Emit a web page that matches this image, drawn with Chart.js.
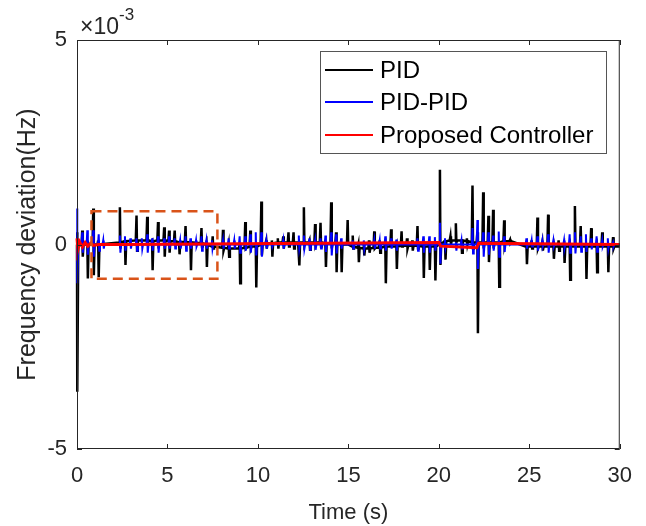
<!DOCTYPE html>
<html>
<head>
<meta charset="utf-8">
<script src="https://cdn.jsdelivr.net/npm/chart.js@4"></script>
<style>
  body { margin: 0; background: #fff; }
  canvas { display: block; }
</style>
</head>
<body>
<canvas id="myChart" width="646" height="526"></canvas>
<script>
// all values in units of 1e-3 Hz (axis shows x10^-3)

// PID: spikes (time, top, bottom) and the slow level around each one
const pidTime = [0, 0.29, 0.57, 0.90, 1.17, 2.37, 2.65, 3.29, 3.88, 4.15,
  4.48, 4.82, 5.09, 5.40, 5.64, 6.00, 6.27, 6.88, 7.15, 7.50,
  8.07, 8.38, 8.99, 9.30, 9.58, 9.88, 10.19, 10.46, 10.77, 11.10,
  11.40, 11.69, 11.97, 12.26, 12.54, 12.85, 13.16, 13.46, 13.73, 14.05,
  14.32, 14.60, 14.96, 15.24, 15.55, 15.85, 16.14, 16.43, 16.73, 17.04,
  17.36, 17.65, 17.94, 18.24, 18.53, 18.82, 19.14, 19.47, 19.78, 20.06,
  20.34, 20.64, 20.94, 21.25, 21.55, 21.86, 22.13, 22.45, 22.74, 23.00,
  23.31, 23.61, 23.94, 24.84, 25.13, 25.45, 25.72, 26.04, 26.33, 26.62,
  26.92, 27.23, 27.52, 27.84, 28.13, 28.42, 28.72, 29.03, 29.34, 29.63];
const pidHigh = [0.3, 0.34, 0.1, 0.88, 0.1, 0.91, 0.1, 0.71, 0.68, 0.1,
  0.55, 0.42, 0.34, 0.34, 0.05, 0.45, 0.05, 0.4, 0.05, 0.2,
  0.36, 0, 0, 0.55, 0.34, 0, 1.05, 0.1, 0.1, 0.15,
  0.2, 0.3, 0.3, 0.05, 0.91, 0.1, 0.5, 0.53, 0, 1.03,
  0.3, 0, 0.6, 0.22, 0, 0, 0.1, 0.32, 0.1, 0,
  0.37, 0, 0.32, 0.15, 0.1, 0.45, 0, 0.05, 0, 1.83,
  0.05, 0.2, 0.52, 0.05, 0.15, 1.44, 0.3, 1.28, 0.7, 0.85,
  0, 0.59, 0.12, 0, 0.1, 0.66, 0.05, 0.73, 0, 0.1,
  0, 0, 0.94, 0.45, 0, 0.4, 0, 0.3, 0, 0.18];
const pidLow = [-3.6, -0.3, -0.83, -0.75, -0.8, -0.1, -0.5, -0.15, 0, -0.63,
  0.05, -0.3, -0.2, 0, -0.24, 0, -0.63, -0.05, -0.55, -0.1,
  -0.15, -0.3, -0.95, -0.1, -0.1, -1.05, -0.27, -0.1, -0.3, -0.1,
  -0.1, -0.05, -0.1, -0.51, 0, -0.13, 0, -0.05, -0.55, -0.1,
  -0.68, -0.68, 0, -0.1, -0.43, -0.27, -0.2, -0.1, -0.2, -0.95,
  0, -0.6, -0.05, -0.1, -0.15, -0.1, -0.82, -0.62, -0.88, -0.5,
  -0.37, 0, 0.05, -0.2, 0, -0.1, -2.17, -0.1, -0.43, -0.1,
  -1.03, 0, 0.05, -0.48, -0.1, -0.1, -0.15, 0, -0.35, -0.15,
  -0.45, -0.86, 0, -0.05, -0.84, -0.05, -0.68, -0.05, -0.68, -0.1];
const pidBase = [0, 0, 0, 0, 0, 0.05, 0.08, 0.1, 0.1, 0.08,
  0.1, 0.1, 0.08, 0.08, 0.06, 0.06, 0.05, 0.03, 0, -0.05,
  -0.08, -0.1, -0.1, -0.08, -0.05, -0.05, 0, 0.03, 0.03, 0.05,
  0.05, 0.05, 0.05, 0.05, 0.05, 0.05, 0.05, 0.05, 0.03, 0.03,
  0.03, 0, 0, -0.05, -0.08, -0.1, -0.1, -0.08, -0.08, -0.05,
  -0.05, -0.05, -0.03, -0.03, -0.03, -0.03, -0.05, -0.05, -0.05, 0,
  0.08, 0.1, 0.1, 0.1, 0.08, 0.05, 0.05, 0.05, 0.05, 0.05,
  0.05, 0.08, 0.08, -0.05, -0.05, -0.05, -0.05, -0.05, -0.05, -0.05,
  -0.05, -0.05, -0.05, -0.05, -0.05, -0.05, -0.05, -0.05, -0.05, -0.05];

// PID-PID spikes
const pidpidTime = [0, 0.29, 0.57, 0.90, 1.20, 1.45, 2.37, 2.65, 2.95, 3.29,
  3.58, 3.88, 4.15, 4.48, 4.82, 5.09, 5.40, 5.70, 6.00, 6.27,
  6.58, 6.88, 7.15, 7.46, 8.07, 8.38, 8.69, 8.99, 9.30, 9.58,
  9.88, 10.19, 10.46, 10.77, 11.40, 12.26, 12.54, 12.85, 13.16, 13.46,
  13.73, 14.05, 14.32, 14.60, 15.24, 15.85, 16.43, 16.73, 17.04, 17.36,
  17.65, 18.82, 19.14, 19.47, 19.78, 20.06, 20.34, 20.94, 21.25, 21.86,
  22.13, 22.45, 22.74, 23.00, 23.31, 23.61, 24.84, 25.13, 25.45, 25.72,
  26.04, 26.33, 26.92, 27.23, 27.52, 27.84, 28.13, 28.42, 28.72, 29.03,
  29.34, 29.63];
const pidpidHigh = [0.88, 0.3, 0.35, 0.35, 0.25, 0.1, 0.22, 0.2, 0.15, 0.15,
  0.15, 0.25, 0.15, 0.2, 0.15, 0.2, 0.15, 0.1, 0.2, 0.15,
  0.1, 0.2, 0.1, 0.1, 0.1, 0.15, 0.1, 0.2, 0.2, 0.25,
  0.3, 0.3, 0.1, 0.05, 0.1, 0.22, 0.22, 0.15, 0.1, 0.15,
  0.22, 0.3, 0.25, 0.15, 0.1, 0.1, 0.1, 0.1, 0.2, 0.15,
  0.12, 0.15, 0.2, 0.2, 0.18, 0.53, 0.15, 0.05, 0.1, 0.4,
  0.6, 0.3, 0.3, 0.22, 0.32, 0.2, 0.15, 0.1, 0.2, 0.1,
  0.25, 0.1, 0.1, 0.25, 0.3, 0.2, 0.25, 0.15, 0.2, 0.1,
  0.15, 0.05];
const pidpidLow = [-0.95, -0.2, -0.25, -0.3, -0.15, -0.1, -0.2, -0.15, -0.1, -0.15,
  -0.1, -0.2, -0.15, -0.2, -0.1, -0.1, -0.1, -0.1, -0.15, -0.1,
  -0.05, -0.15, -0.1, -0.1, -0.1, -0.1, -0.1, -0.2, -0.15, -0.2,
  -0.27, -0.3, -0.1, -0.05, -0.1, -0.1, -0.1, -0.13, -0.13, -0.1,
  -0.18, -0.27, -0.22, -0.1, -0.1, -0.1, -0.1, -0.1, -0.15, -0.1,
  -0.15, -0.15, -0.2, -0.2, -0.15, -0.47, -0.08, -0.15, -0.1, -0.22,
  -0.6, -0.3, -0.25, -0.15, -0.3, -0.18, -0.1, -0.05, -0.15, -0.05,
  -0.2, -0.05, -0.08, -0.2, -0.22, -0.18, -0.18, -0.12, -0.18, -0.05,
  -0.1, -0.05];

// Proposed controller, almost flat
const propTime = [0, 0.05, 0.15, 0.3, 0.45, 0.6, 0.75, 0.9, 1.2, 2.4, 20.0, 20.1, 22.1, 22.2, 30];
const propValue = [0.15, -0.12, 0.06, -0.06, 0.05, -0.04, 0.03, -0.02, 0, 0, 0.05, -0.04, -0.08, 0.03, 0];

const xTicks = [0, 5, 10, 15, 20, 25, 30];
const yTicks = [-5, 0, 5];
const seriesNames = ['PID', 'PID-PID', 'Proposed Controller'];
const seriesColors = ['#000000', '#0000ff', '#ff0000'];
const zoomBox = [0.8, 7.76, -0.84, 0.81];   // t0, t1, v0, v1

const FONT = '"Liberation Sans", Arial, sans-serif';
const INK = '#262626';

// spike table -> points for a line
function spikePoints(time, high, low, base) {
    let pts = [{x: 0, y: base ? base[0] : 0}];
    for (let i = 0; i < time.length; i++) {
        let b = base ? base[i] : 0;
        let t = time[i];
        if (t - 0.04 > 0) pts.push({x: t - 0.04, y: b});
        pts.push({x: t, y: high[i]});
        pts.push({x: t + 0.03, y: low[i]});
        pts.push({x: t + 0.07, y: b});
    }
    pts.push({x: 30, y: base ? base[base.length - 1] : 0});
    return pts;
}

const matlabAxes = {
    id: 'matlabAxes',
    afterDatasetsDraw(chart) {
        const {ctx, chartArea: a, scales} = chart;
        const x = scales.x, y = scales.y;
        ctx.save();

        // dashed zoom box
        ctx.strokeStyle = '#D95319';
        ctx.lineWidth = 2.5;
        ctx.setLineDash([10, 6]);
        let bx0 = x.getPixelForValue(zoomBox[0]), bx1 = x.getPixelForValue(zoomBox[1]);
        let by0 = y.getPixelForValue(zoomBox[3]), by1 = y.getPixelForValue(zoomBox[2]);
        ctx.strokeRect(bx0, by0, bx1 - bx0, by1 - by0);
        ctx.setLineDash([]);

        // box + inward ticks
        ctx.strokeStyle = INK;
        ctx.lineWidth = 1;
        ctx.strokeRect(a.left + 0.5, a.top + 0.5, a.right - a.left - 1, a.bottom - a.top - 1);
        ctx.beginPath();
        xTicks.forEach(v => {
            let px = Math.round(x.getPixelForValue(v)) + 0.5;
            ctx.moveTo(px, a.bottom); ctx.lineTo(px, a.bottom - 5);
            ctx.moveTo(px, a.top); ctx.lineTo(px, a.top + 5);
        });
        yTicks.forEach(v => {
            let py = Math.round(y.getPixelForValue(v)) + 0.5;
            ctx.moveTo(a.left, py); ctx.lineTo(a.left + 5, py);
            ctx.moveTo(a.right, py); ctx.lineTo(a.right - 5, py);
        });
        ctx.stroke();

        // exponent label
        ctx.fillStyle = INK;
        ctx.textBaseline = 'alphabetic';
        ctx.textAlign = 'left';
        ctx.font = '23px ' + FONT;
        ctx.fillText('\u00d710', a.left + 3, a.top - 6);
        let w = ctx.measureText('\u00d710').width;
        ctx.font = '17px ' + FONT;
        ctx.fillText('-3', a.left + 3 + w, a.top - 20);

        // legend
        ctx.fillStyle = '#fff';
        ctx.fillRect(320, 51, 286, 102);
        ctx.strokeStyle = '#555';
        ctx.strokeRect(320.5, 51.5, 286, 102);
        const rows = [70, 102, 135];
        ctx.font = '24px ' + FONT;
        ctx.textBaseline = 'middle';
        seriesNames.forEach((name, i) => {
            ctx.strokeStyle = seriesColors[i];
            ctx.lineWidth = 2;
            ctx.beginPath();
            ctx.moveTo(325, rows[i]); ctx.lineTo(373, rows[i]);
            ctx.stroke();
            ctx.fillStyle = '#000';
            ctx.fillText(name, 380, rows[i] + 1);
        });
        ctx.restore();
    }
};

var ctx = document.getElementById('myChart').getContext('2d');

var chart = new Chart(ctx, {
    type: 'line',
    data: {
        datasets: [{
            label: seriesNames[0],
            data: spikePoints(pidTime, pidHigh, pidLow, pidBase),
            borderColor: seriesColors[0],
            borderWidth: 2.5,
            clip: false,
            order: 3
        }, {
            label: seriesNames[1],
            data: spikePoints(pidpidTime, pidpidHigh, pidpidLow, null),
            borderColor: seriesColors[1],
            borderWidth: 2,
            clip: false,
            order: 2
        }, {
            label: seriesNames[2],
            data: propTime.map((t, i) => ({x: t, y: propValue[i]})),
            borderColor: seriesColors[2],
            borderWidth: 3,
            clip: false,
            order: 1
        }]
    },
    options: {
        responsive: false,
        animation: false,
        devicePixelRatio: 1,
        parsing: false,
        elements: {
            point: {radius: 0},
            line: {tension: 0, borderJoinStyle: 'miter'}
        },
        layout: {padding: {top: 40, right: 25, left: 0, bottom: 0}},
        plugins: {
            legend: {display: false},
            tooltip: {enabled: false}
        },
        scales: {
            x: {
                type: 'linear',
                min: 0, max: 30,
                afterBuildTicks: s => { s.ticks = xTicks.map(v => ({value: v})); },
                afterFit: s => { s.height = 77; },
                grid: {display: false, drawTicks: false},
                border: {display: false},
                ticks: {color: INK, font: {family: FONT, size: 22}, padding: 14, maxRotation: 0},
                title: {display: true, text: 'Time (s)', color: INK, font: {family: FONT, size: 22}, padding: {top: 5, bottom: 0}}
            },
            y: {
                type: 'linear',
                min: -5, max: 5,
                afterBuildTicks: s => { s.ticks = yTicks.map(v => ({value: v})); },
                afterFit: s => { s.width = 77; },
                grid: {display: false, drawTicks: false},
                border: {display: false},
                ticks: {color: INK, font: {family: FONT, size: 22}, padding: 10},
                title: {display: true, text: 'Frequency deviation(Hz)', color: INK, font: {family: FONT, size: 25}, padding: {top: 13, bottom: 0}}
            }
        }
    },
    plugins: [matlabAxes]
});
</script>
</body>
</html>
